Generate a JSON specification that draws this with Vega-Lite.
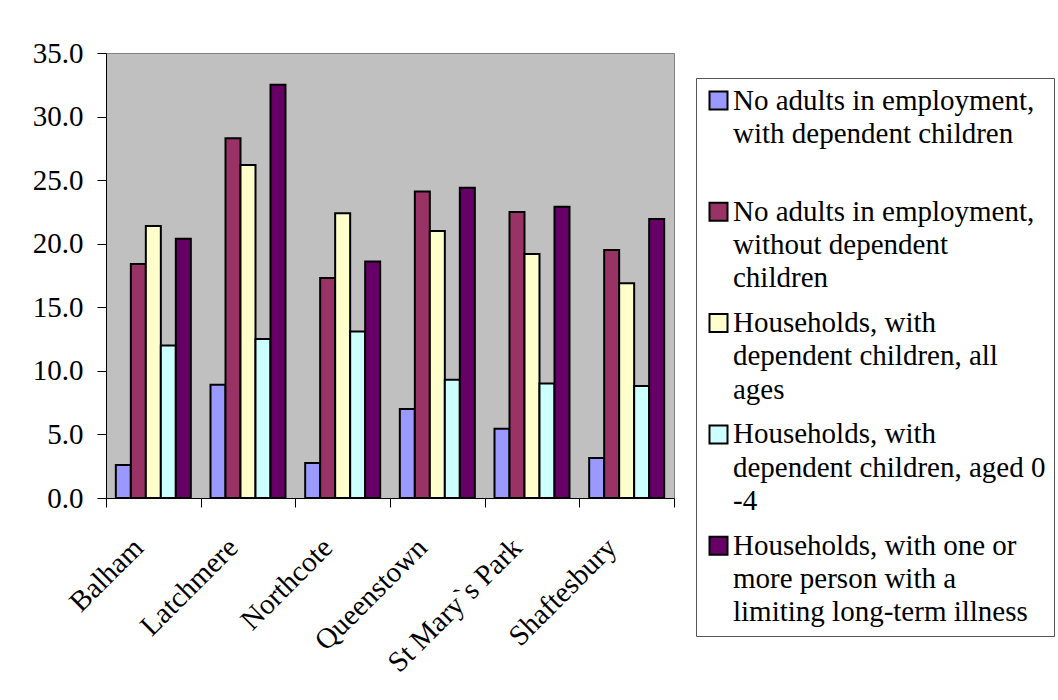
{
  "$schema": "https://vega.github.io/schema/vega-lite/v6.json",
  "autosize": "none",
  "width": 568,
  "height": 445,
  "padding": {"left": 106, "top": 53, "right": 384, "bottom": 202},
  "background": "#ffffff",
  "data": {
    "values": [
      {"ward": "Balham", "series": "No adults in employment,|with dependent children|", "pct": 2.6},
      {"ward": "Balham", "series": "No adults in employment,|without dependent|children", "pct": 18.4},
      {"ward": "Balham", "series": "Households, with|dependent children, all|ages", "pct": 21.4},
      {"ward": "Balham", "series": "Households, with|dependent children, aged 0|-4", "pct": 12.0},
      {"ward": "Balham", "series": "Households, with one or|more person with a|limiting long-term illness", "pct": 20.4},
      {"ward": "Latchmere", "series": "No adults in employment,|with dependent children|", "pct": 8.9},
      {"ward": "Latchmere", "series": "No adults in employment,|without dependent|children", "pct": 28.3},
      {"ward": "Latchmere", "series": "Households, with|dependent children, all|ages", "pct": 26.2},
      {"ward": "Latchmere", "series": "Households, with|dependent children, aged 0|-4", "pct": 12.5},
      {"ward": "Latchmere", "series": "Households, with one or|more person with a|limiting long-term illness", "pct": 32.5},
      {"ward": "Northcote", "series": "No adults in employment,|with dependent children|", "pct": 2.75},
      {"ward": "Northcote", "series": "No adults in employment,|without dependent|children", "pct": 17.3},
      {"ward": "Northcote", "series": "Households, with|dependent children, all|ages", "pct": 22.4},
      {"ward": "Northcote", "series": "Households, with|dependent children, aged 0|-4", "pct": 13.1},
      {"ward": "Northcote", "series": "Households, with one or|more person with a|limiting long-term illness", "pct": 18.6},
      {"ward": "Queenstown", "series": "No adults in employment,|with dependent children|", "pct": 7.0},
      {"ward": "Queenstown", "series": "No adults in employment,|without dependent|children", "pct": 24.1},
      {"ward": "Queenstown", "series": "Households, with|dependent children, all|ages", "pct": 21.0},
      {"ward": "Queenstown", "series": "Households, with|dependent children, aged 0|-4", "pct": 9.3},
      {"ward": "Queenstown", "series": "Households, with one or|more person with a|limiting long-term illness", "pct": 24.4},
      {"ward": "St Mary`s Park", "series": "No adults in employment,|with dependent children|", "pct": 5.45},
      {"ward": "St Mary`s Park", "series": "No adults in employment,|without dependent|children", "pct": 22.5},
      {"ward": "St Mary`s Park", "series": "Households, with|dependent children, all|ages", "pct": 19.2},
      {"ward": "St Mary`s Park", "series": "Households, with|dependent children, aged 0|-4", "pct": 9.0},
      {"ward": "St Mary`s Park", "series": "Households, with one or|more person with a|limiting long-term illness", "pct": 22.9},
      {"ward": "Shaftesbury", "series": "No adults in employment,|with dependent children|", "pct": 3.15},
      {"ward": "Shaftesbury", "series": "No adults in employment,|without dependent|children", "pct": 19.5},
      {"ward": "Shaftesbury", "series": "Households, with|dependent children, all|ages", "pct": 16.9},
      {"ward": "Shaftesbury", "series": "Households, with|dependent children, aged 0|-4", "pct": 8.8},
      {"ward": "Shaftesbury", "series": "Households, with one or|more person with a|limiting long-term illness", "pct": 21.95}
    ]
  },
  "mark": {"type": "bar", "stroke": "#000000", "strokeWidth": 2},
  "encoding": {
    "x": {
      "field": "ward",
      "type": "nominal",
      "sort": null,
      "title": null,
      "scale": {"paddingInner": 0, "paddingOuter": 0},
      "axis": {
        "labelAngle": -45,
        "labelAlign": "right",
        "labelBaseline": "alphabetic",
        "labelPadding": 42,
        "labelOffset": -9,
        "tickBand": "extent",
        "tickSize": 9
      }
    },
    "xOffset": {
      "field": "series",
      "type": "nominal",
      "sort": null,
      "scale": {"paddingInner": 0, "paddingOuter": 0.656}
    },
    "y": {
      "field": "pct",
      "type": "quantitative",
      "title": null,
      "scale": {"domain": [0, 35], "nice": false},
      "axis": {
        "values": [0, 5, 10, 15, 20, 25, 30, 35],
        "format": ".1f",
        "tickSize": 9,
        "labelPadding": 14
      }
    },
    "color": {
      "field": "series",
      "type": "nominal",
      "sort": null,
      "scale": {
        "domain": [
          "No adults in employment,|with dependent children|",
          "No adults in employment,|without dependent|children",
          "Households, with|dependent children, all|ages",
          "Households, with|dependent children, aged 0|-4",
          "Households, with one or|more person with a|limiting long-term illness"
        ],
        "range": ["#9999FF", "#993366", "#FFFFCC", "#CCFFFF", "#660066"]
      },
      "legend": {
        "title": null,
        "orient": "none",
        "legendX": 590,
        "legendY": 25,
        "labelExpr": "split(datum.label, '|')",
        "labelBaseline": "middle",
        "symbolType": "square",
        "symbolSize": 324,
        "symbolStrokeColor": "#000000",
        "symbolStrokeWidth": 2,
        "labelOffset": 0,
        "rowPadding": 14.3,
        "padding": 8,
        "strokeColor": "#555555",
        "labelLimit": 600
      }
    }
  },
  "config": {
    "font": "Liberation Serif",
    "view": {"fill": "#C0C0C0", "stroke": "#808080", "strokeWidth": 1},
    "axis": {
      "labelFont": "Liberation Serif",
      "labelFontSize": 29,
      "labelColor": "#000000",
      "domainColor": "#000000",
      "tickColor": "#000000",
      "grid": false
    },
    "legend": {
      "labelFont": "Liberation Serif",
      "labelFontSize": 29,
      "labelColor": "#000000"
    },
    "style": {"guide-label": {"lineHeight": 33.3}}
  }
}
